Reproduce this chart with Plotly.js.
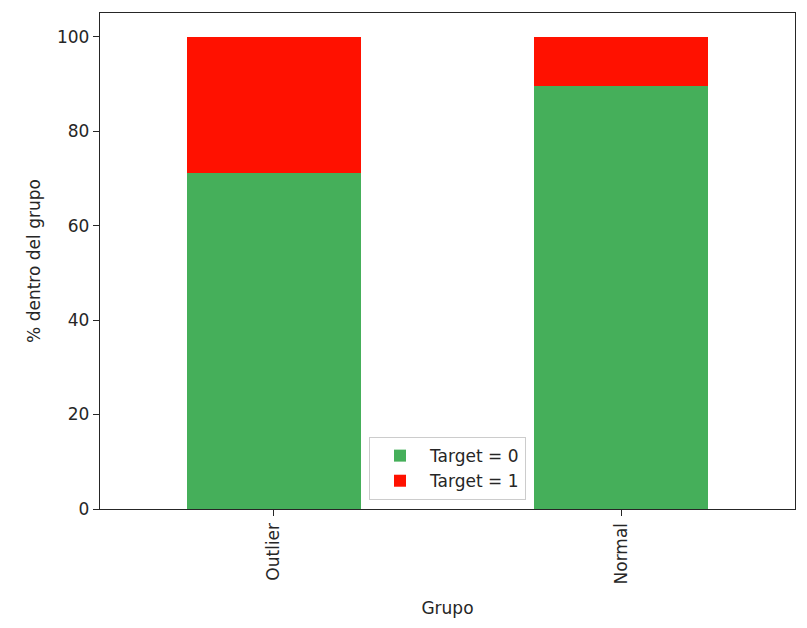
<!DOCTYPE html>
<html>
<head>
<meta charset="utf-8">
<script src="https://cdn.plot.ly/plotly-3.0.1.min.js"></script>
<style>
  html, body { margin: 0; padding: 0; background: #fff; }
  #chart { width: 807px; height: 628px; }
</style>
</head>
<body>
<div id="chart"></div>
<script>
const grupos = ['Outlier', 'Normal'];
const target0 = [71.2, 89.6];
const target1 = [28.8, 10.4];
const seriesNames = ['Target = 0', 'Target = 1'];
const yTicks = [0, 20, 40, 60, 80, 100];

const colors = ['#45af5a', '#ff1100'];
const axisColor = '#262626';

const traces = [target0, target1].map((vals, i) => ({
  type: 'bar',
  x: grupos,
  y: vals,
  name: seriesNames[i],
  marker: { color: colors[i], line: { width: 0 } },
  hoverinfo: 'x+y+name',
}));

const layout = {
  width: 807,
  height: 628,
  margin: { l: 100, r: 12, t: 12.5, b: 119 },
  paper_bgcolor: '#fff',
  plot_bgcolor: '#fff',
  font: { family: 'DejaVu Sans', size: 17, color: axisColor },
  barmode: 'stack',
  bargap: 0.5,
  showlegend: true,
  legend: {
    x: 0.5,
    xanchor: 'center',
    y: 0.018,
    yanchor: 'bottom',
    bgcolor: 'rgba(255,255,255,0.8)',
    bordercolor: '#cccccc',
    borderwidth: 1,
    font: { size: 17, color: axisColor },
    itemwidth: 50,
    traceorder: 'normal',
    tracegroupgap: 0,
  },
  xaxis: {
    type: 'category',
    range: [-0.5, 1.5],
    tickangle: -90,
    ticks: 'outside',
    ticklen: 6,
    tickcolor: axisColor,
    showline: true,
    linecolor: axisColor,
    linewidth: 1.3,
    mirror: true,
    showgrid: false,
    zeroline: false,
    title: { text: 'Grupo', font: { size: 17 }, standoff: 18 },
  },
  yaxis: {
    range: [0, 105],
    tickvals: yTicks,
    ticks: 'outside',
    ticklen: 6,
    tickcolor: axisColor,
    showline: true,
    linecolor: axisColor,
    linewidth: 1.3,
    mirror: true,
    showgrid: false,
    zeroline: false,
    title: { text: '% dentro del grupo', font: { size: 17 }, standoff: 12 },
  },
};

Plotly.newPlot('chart', traces, layout, { displayModeBar: false, responsive: false });
</script>
</body>
</html>
